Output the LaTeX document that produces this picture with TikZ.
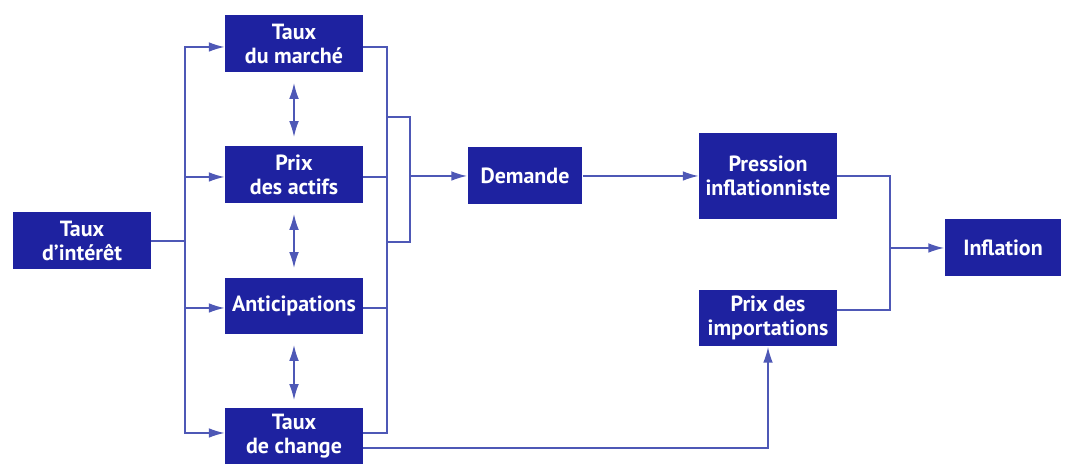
\documentclass[tikz,border=0pt]{standalone}
\usepackage{fontspec}
\setmainfont{PT Sans}
\usetikzlibrary{arrows.meta,positioning,calc}
\definecolor{boxblue}{RGB}{30,34,160}
\definecolor{lineblue}{RGB}{78,88,182}

\begin{document}
\begin{tikzpicture}[x=0.02cm, y=-0.02cm, >={Latex[length=9pt,width=5.5pt]}]
        \tikzset{
            block/.style={draw=none, fill=boxblue, rectangle, minimum height=1.14cm, minimum width=2.76cm, align=center, text=white, font=\fontsize{12.5}{13.5}\selectfont\bfseries, inner sep=1pt},
            line/.style={draw=lineblue, line width=0.9pt},
            link/.style={line, ->},
            both/.style={line, <->}
        }
        \useasboundingbox (0,0) rectangle (1073,465);

        % Source
        \node [block] (taux) at (82, 241) {Taux\\d'intérêt};

        % Channels
        \node [block] (marche) at (294, 44) {Taux\\du marché};
        \node [block] (actifs) at (294, 175) {Prix\\des actifs};
        \node [block] (antic) at (294, 306) {Anticipations};
        \node [block] (change) at (294, 436) {Taux\\de change};

        % Effects
        \node [block, minimum width=2.3cm] (demande) at (525, 176) {Demande};
        \node [block, minimum height=1.74cm] (pression) at (768, 176) {Pression\\inflationniste};
        \node [block] (import) at (768, 318) {Prix des\\importations};
        \node [block, minimum width=2.34cm] (inflation) at (1003, 248) {Inflation};

        % Fan out from the rate
        \coordinate (split) at (185, 241);
        \draw [line] (taux.east) -- (split);
        \draw [link] (split) |- ($(marche.west) + (0,3)$);
        \draw [link] (split) |- ($(actifs.west) + (0,2)$);
        \draw [link] (split) |- ($(antic.west) + (0,2)$);
        \draw [link] (split) |- ($(change.west) + (0,-3)$);

        % Mutual links
        \draw [both] (294, 83) -- (294, 137);
        \draw [both] (294, 214) -- (294, 268);
        \draw [both] (294, 345) -- (294, 400);

        % Collecting bracket
        \coordinate (col) at (387, 47);
        \draw [line] ($(marche.east) + (0,3)$) -- (col) -- (387, 433) -- ($(change.east) + (0,-3)$);
        \draw [line] ($(actifs.east) + (0,2)$) -- (387, 177);
        \draw [line] ($(antic.east) + (0,2)$) -- (387, 308);
        \coordinate (join) at (410, 176);
        \draw [line] (387, 117) -| (410, 242) -- (387, 242);
        \draw [link] (join) -- (join -| demande.west);

        % Demand to pressure
        \draw [link] (demande.east) -- (demande.east -| pression.west);

        % Exchange rate to import prices
        \draw [link] ($(change.east) + (0,12)$) -| (import.south);

        % Towards inflation
        \coordinate (merge) at (890, 248);
        \draw [line] (pression.east) -| (890, 310) -- ($(import.east) + (0,-8)$);
        \draw [link] (merge) -- (merge -| inflation.west);

    \end{tikzpicture}
\end{document}
